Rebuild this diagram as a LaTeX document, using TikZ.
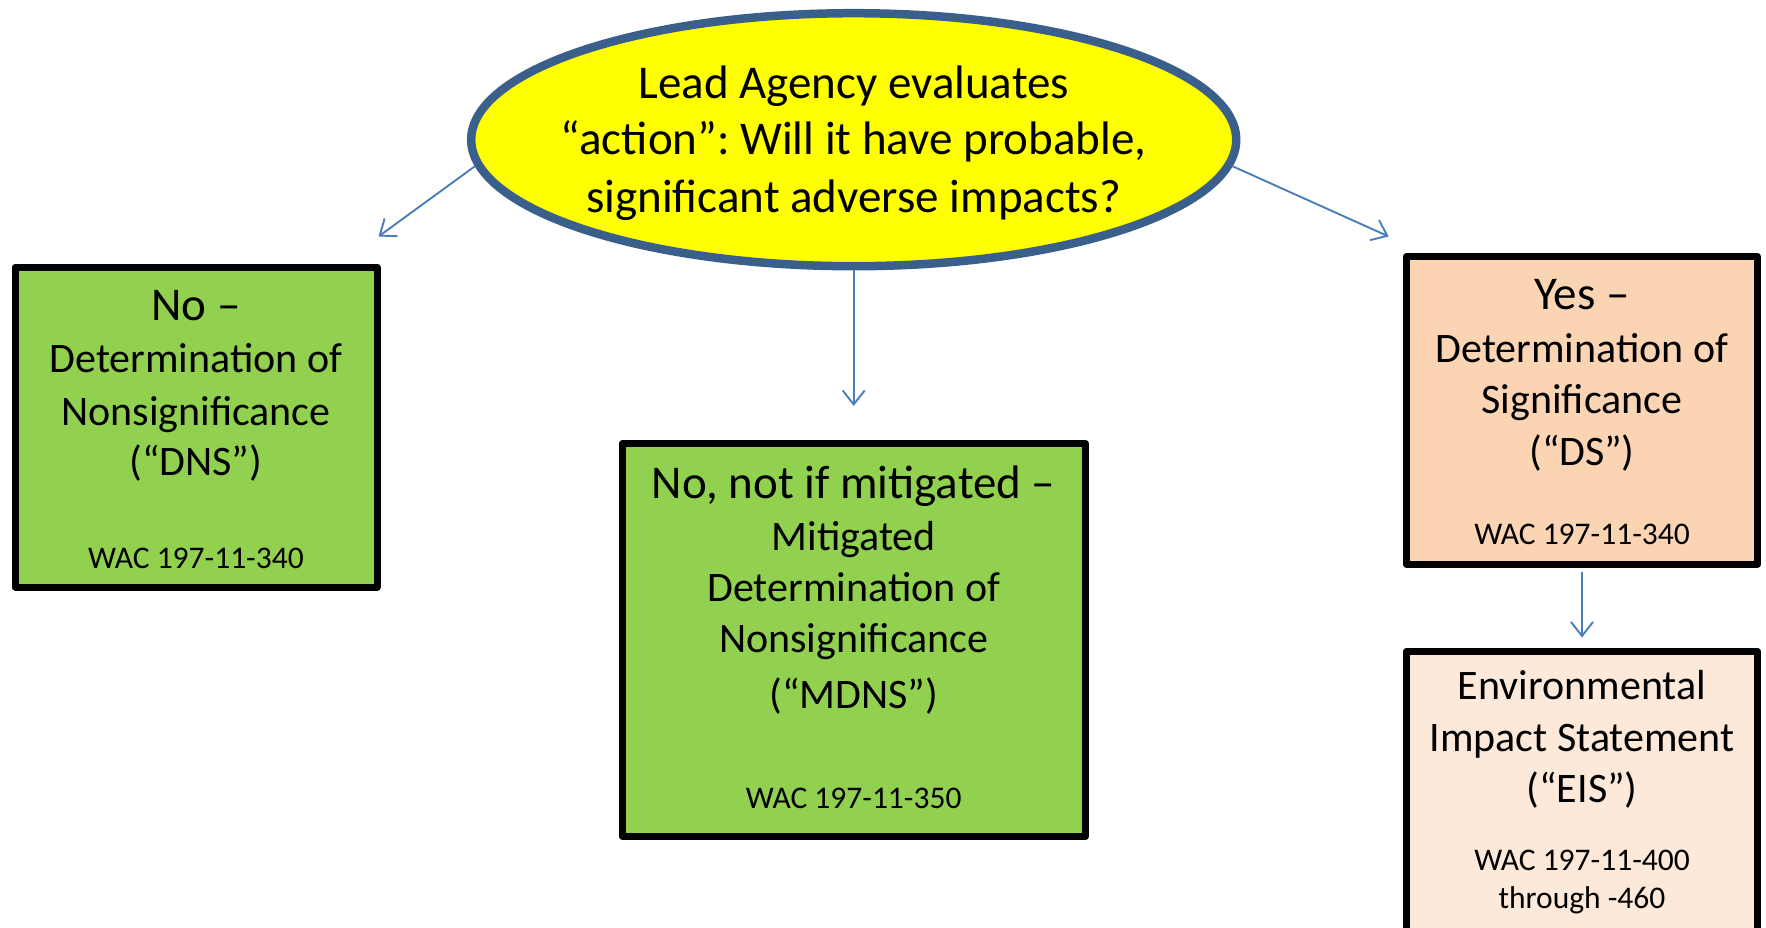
\documentclass[tikz,border=0pt]{standalone}
\usepackage{fontspec}
\setmainfont{Carlito}
\usetikzlibrary{arrows.meta,shapes.geometric}

\definecolor{askyellow}{HTML}{FFFF00}
\definecolor{askrim}{HTML}{3A5F8B}
\definecolor{nogreen}{HTML}{92D050}
\definecolor{yespeach}{HTML}{FBD4B4}
\definecolor{eispeach}{HTML}{FDE9D9}
\definecolor{flowblue}{HTML}{4A7EBB}

\begin{document}
\frenchspacing
\begin{tikzpicture}[x=1pt,y=-1pt,
  box/.style={draw=black,line width=7pt,rectangle,line join=round,inner sep=0pt},
  flow/.style={draw=flowblue,line width=1.9pt,-{Straight Barb[length=14pt,width=22pt]}},
  headline/.style={anchor=base,inner sep=0pt,font=\fontsize{47}{57}\selectfont},
  bodyline/.style={anchor=base,inner sep=0pt,font=\fontsize{42}{51}\selectfont},
  citeline/.style={anchor=base,inner sep=0pt,font=\fontsize{31.5}{38}\selectfont}]

\useasboundingbox (0,0) rectangle (1766,928);

% question ellipse
\node[ellipse,draw=askrim,line width=8.5pt,fill=askyellow,inner sep=0pt,
      minimum width=765pt,minimum height=253pt] (ask) at (853.7,139.7) {};
\node[headline] (ask1) at (853.7,98.5) {Lead Agency evaluates};
\node[headline] (ask2) at (853.7,155) {“action”: Will it have probable,};
\node[headline] (ask3) at (853.7,212) {significant adverse impacts?};

% DNS box
\node[box,fill=nogreen,minimum width=362pt,minimum height=320pt] (dns) at (196,427) {};
\node[headline] (dns1) at (196,320) {No –};
\node[bodyline] (dns2) at (196,372.7) {Determination of};
\node[bodyline] (dns3) at (196,425) {Nonsignificance};
\node[bodyline] (dns4) at (196,475) {(“DNS”)};
\node[citeline] (dns5) at (196,568.3) {WAC 197-11-340};

% MDNS box
\node[box,fill=nogreen,minimum width=463pt,minimum height=393pt] (mdns) at (853.7,640) {};
\node[headline] (mdns1) at (853.7,498.3) {No, not if mitigated –};
\node[bodyline] (mdns2) at (853.7,550) {Mitigated};
\node[bodyline] (mdns3) at (853.7,601.7) {Determination of};
\node[bodyline] (mdns4) at (853.7,652.3) {Nonsignificance};
\node[bodyline] (mdns5) at (853.7,708.3) {(“MDNS”)};
\node[citeline] (mdns6) at (853.7,808.3) {WAC 197-11-350};

% DS box
\node[box,fill=yespeach,minimum width=351pt,minimum height=307.5pt] (ds) at (1582,410.3) {};
\node[headline] (ds1) at (1582,309) {Yes –};
\node[bodyline] (ds2) at (1582,362.6) {Determination of};
\node[bodyline] (ds3) at (1582,413.6) {Significance};
\node[bodyline] (ds4) at (1582,465.6) {(“DS”)};
\node[citeline] (ds5) at (1582,544.5) {WAC 197-11-340};

% EIS box (runs past the lower edge)
\node[box,fill=eispeach,minimum width=351pt,minimum height=309pt] (eis) at (1582,805.5) {};
\node[bodyline] (eis1) at (1582,699.6) {Environmental};
\node[bodyline] (eis2) at (1582,751.6) {Impact Statement};
\node[bodyline] (eis3) at (1582,802) {(“EIS”)};
\node[citeline] (eis4) at (1582,870) {WAC 197-11-400};
\node[citeline] (eis5) at (1582,908.5) {through -460};

% connectors
\coordinate (toDNS) at (378.5,236.5);
\coordinate (toDS) at (1388.7,236.5);
\draw[flow] (ask.184) -- (toDNS);
\draw[flow] (ask.356) -- (toDS);
\draw[flow,shorten >=34pt] (ask.south) -- (mdns.north);
\draw[flow,shorten <=4.5pt,shorten >=10pt] (ds.south) -- (eis.north);
\end{tikzpicture}
\end{document}
